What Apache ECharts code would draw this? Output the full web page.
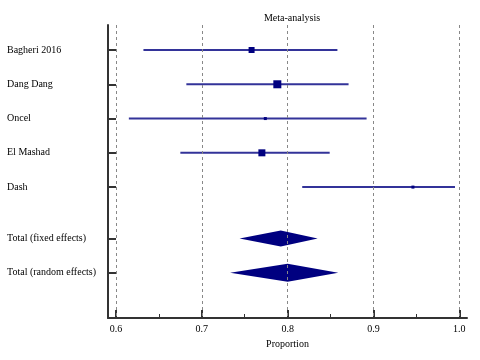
<!DOCTYPE html>
<html><head><meta charset="utf-8">
<script src="https://cdn.jsdelivr.net/npm/echarts@6/dist/echarts.min.js"></script>
<style>html,body{margin:0;padding:0;background:#fff}#c{width:480px;height:360px}</style>
</head><body><div id="c"></div>
<script>
const studies = ['Bagheri 2016','Dang Dang','Oncel','El Mashad','Dash'];
const studyRows = [1,2,3,4,5];
const estimates = [0.758,0.788,0.774,0.770,0.946];
const lowerCI = [0.632,0.682,0.615,0.675,0.817];
const upperCI = [0.858,0.871,0.892,0.849,0.995];
const markerSizes = [6,8,3,7,3];
const totals = ['Total (fixed effects)','Total (random effects)'];
const totalRows = [6.5,7.5];
const totalEst = [0.792,0.800];
const totalLo = [0.744,0.733];
const totalHi = [0.835,0.859];
const majorTicks = [0.6,0.7,0.8,0.9,1.0];
const minorTicks = [0.65,0.75,0.85,0.95];

const rowNames = {};
studyRows.forEach((r,i)=>rowNames[r]=studies[i]);
totalRows.forEach((r,i)=>rowNames[r]=totals[i]);
const allRows = studyRows.concat(totalRows);

const font = 'Liberation Serif';
const chart = echarts.init(document.getElementById('c'));
const xmin = 0.5907, xmax = 1.009;
chart.setOption({
  animation:false,
  title:{text:'Meta-analysis',left:287,textAlign:'center',top:8,textStyle:{fontFamily:font,fontSize:10,fontWeight:'normal',color:'#000'}},
  grid:{left:108,right:13,top:25,bottom:42},
  xAxis:[{
    type:'value',min:xmin,max:xmax,
    name:'Proportion',nameLocation:'middle',nameGap:21,
    nameTextStyle:{fontFamily:font,fontSize:10,color:'#000'},
    axisLine:{show:true,onZero:false,lineStyle:{color:'#333',width:2}},
    axisTick:{show:true,inside:true,length:8,customValues:majorTicks,lineStyle:{color:'#333',width:2}},
    axisLabel:{customValues:majorTicks,fontFamily:font,fontSize:10,color:'#000',margin:6,formatter:v=>v.toFixed(1)},
    splitLine:{show:false}
  },{
    type:'value',min:xmin,max:xmax,position:'bottom',
    axisLine:{show:false},
    axisTick:{show:true,inside:true,length:4,customValues:minorTicks,lineStyle:{color:'#333',width:1}},
    axisLabel:{show:false},splitLine:{show:false}
  }],
  yAxis:{
    type:'value',inverse:true,min:0.27,max:8.82,
    axisLine:{show:true,onZero:false,lineStyle:{color:'#333',width:2}},
    axisTick:{show:true,inside:true,length:8,customValues:allRows,lineStyle:{color:'#333',width:2}},
    axisLabel:{customValues:allRows,align:'left',margin:101,fontFamily:font,fontSize:10,color:'#000',formatter:v=>rowNames[v]||''},
    splitLine:{show:false}
  },
  series:[
    {
      type:'line',data:[],
      markLine:{silent:true,symbol:'none',label:{show:false},
        lineStyle:{color:'#888',type:[3,3],width:1},
        data:majorTicks.map(v=>({xAxis:v}))}
    },
    {
      type:'custom',
      data:studies.map((s,i)=>[lowerCI[i],upperCI[i],studyRows[i]]),
      renderItem:(params,api)=>{
        const a = api.coord([api.value(0),api.value(2)]);
        const b = api.coord([api.value(1),api.value(2)]);
        return {type:'line',shape:{x1:a[0],y1:a[1],x2:b[0],y2:b[1]},style:{stroke:'#333399',lineWidth:2}};
      }
    },
    {
      type:'scatter',symbol:'rect',
      data:studies.map((s,i)=>({value:[estimates[i],studyRows[i]],symbolSize:markerSizes[i]})),
      itemStyle:{color:'#000080',opacity:1}
    },
    {
      type:'custom',
      data:totals.map((s,i)=>[totalLo[i],totalEst[i],totalHi[i],totalRows[i],i]),
      renderItem:(params,api)=>{
        const y = api.value(3);
        const l = api.coord([api.value(0),y]);
        const c = api.coord([api.value(1),y]);
        const r = api.coord([api.value(2),y]);
        const h = api.value(4)===0 ? 8 : 9;
        return {type:'polygon',shape:{points:[[l[0],l[1]],[c[0],c[1]-h],[r[0],r[1]],[c[0],c[1]+h]]},style:{fill:'#000080'}};
      }
    }
  ]
});
</script></body></html>
